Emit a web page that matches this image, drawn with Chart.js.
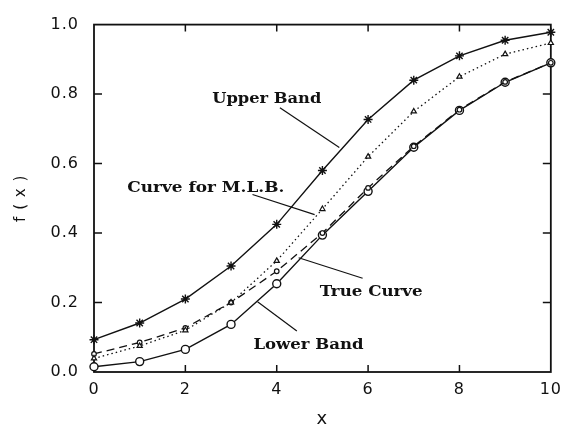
<!DOCTYPE html>
<html>
<head>
<meta charset="utf-8">
<script src="https://cdn.jsdelivr.net/npm/chart.js@4/dist/chart.umd.min.js"></script>
<style>
  html, body { margin: 0; padding: 0; background: #fff; }
</style>
</head>
<body>
<canvas id="chart" width="569" height="430"></canvas>
<script>
// data
const xValues = [0, 1, 2, 3, 4, 5, 6, 7, 8, 9, 10];
const upperBand = [0.093, 0.141, 0.21, 0.305, 0.425, 0.58, 0.727, 0.84, 0.91, 0.955, 0.978];
const mlbCurve = [0.039, 0.075, 0.12, 0.2, 0.32, 0.469, 0.62, 0.75, 0.85, 0.915, 0.947];
const trueCurve = [0.052, 0.085, 0.127, 0.2, 0.29, 0.4, 0.53, 0.65, 0.755, 0.835, 0.89];
const lowerBand = [0.015, 0.03, 0.065, 0.137, 0.254, 0.394, 0.52, 0.647, 0.753, 0.834, 0.89];
const xTicks = [0, 2, 4, 6, 8, 10];
const yTicks = [0, 0.2, 0.4, 0.6, 0.8, 1.0];

// callout labels (data units) with leader lines
const notes = [
  { text: "Upper Band", at: [2.59, 0.784], width: 109, line: [[4.07, 0.761], [5.37, 0.646]] },
  { text: "Curve for M.L.B.", at: [0.73, 0.528], width: 157, line: [[3.47, 0.511], [4.83, 0.453]] },
  { text: "True Curve", at: [4.94, 0.228], width: 103, line: [[5.88, 0.27], [4.48, 0.329]] },
  { text: "Lower Band", at: [3.49, 0.076], width: 110, line: [[4.44, 0.118], [3.58, 0.202]] }
];

const ink = "#111";

function toPoints(ys) {
  return xValues.map((x, i) => ({ x: x, y: ys[i] }));
}

// box round the plot with inward ticks on all four sides
const framePlugin = {
  id: "frame",
  beforeDraw(chart) {
    chart.ctx.letterSpacing = "1px";
  },
  beforeDatasetsDraw(chart) {
    const { ctx, chartArea: a, scales } = chart;
    ctx.save();
    ctx.strokeStyle = ink;
    ctx.lineWidth = 1.8;
    ctx.strokeRect(a.left, a.top, a.right - a.left, a.bottom - a.top);
    ctx.lineWidth = 1.5;
    ctx.beginPath();
    xTicks.slice(1, -1).forEach(v => {
      const px = scales.x.getPixelForValue(v);
      ctx.moveTo(px, a.bottom); ctx.lineTo(px, a.bottom - 7);
      ctx.moveTo(px, a.top); ctx.lineTo(px, a.top + 7);
    });
    yTicks.slice(1, -1).forEach(v => {
      const py = scales.y.getPixelForValue(v);
      ctx.moveTo(a.left, py); ctx.lineTo(a.left + 8, py);
      ctx.moveTo(a.right, py); ctx.lineTo(a.right - 8, py);
    });
    ctx.stroke();
    ctx.restore();
  }
};

const notesPlugin = {
  id: "notes",
  afterDatasetsDraw(chart) {
    const { ctx, scales } = chart;
    ctx.save();
    ctx.letterSpacing = "0px";
    ctx.strokeStyle = ink;
    ctx.fillStyle = ink;
    ctx.lineWidth = 1.2;
    ctx.font = "bold 14px 'DejaVu Serif'";
    ctx.textBaseline = "middle";
    notes.forEach(n => {
      const p0 = n.line[0], p1 = n.line[1];
      ctx.beginPath();
      ctx.moveTo(scales.x.getPixelForValue(p0[0]), scales.y.getPixelForValue(p0[1]));
      ctx.lineTo(scales.x.getPixelForValue(p1[0]), scales.y.getPixelForValue(p1[1]));
      ctx.stroke();
      const tx = scales.x.getPixelForValue(n.at[0]);
      const ty = scales.y.getPixelForValue(n.at[1]);
      const w = ctx.measureText(n.text).width;
      ctx.save();
      ctx.translate(tx, ty);
      ctx.scale(n.width / w, 1);
      ctx.fillText(n.text, 0, 0);
      ctx.restore();
    });
    ctx.restore();
  }
};

const tickFont = { family: "'DejaVu Sans'", size: 16 };

new Chart(document.getElementById("chart"), {
  type: "line",
  data: {
    datasets: [
      {
        label: "Upper Band",
        data: toPoints(upperBand),
        borderColor: ink, borderWidth: 1.4,
        pointStyle: "star", pointRadius: 4.5, pointBorderWidth: 1.4,
        pointBorderColor: ink, pointBackgroundColor: ink,
        clip: false
      },
      {
        label: "Curve for M.L.B.",
        data: toPoints(mlbCurve),
        borderColor: ink, borderWidth: 1.3, borderDash: [1.5, 3],
        pointStyle: "triangle", pointRadius: 3, pointBorderWidth: 1.2,
        pointBorderColor: ink, pointBackgroundColor: "#fff",
        clip: false
      },
      {
        label: "True Curve",
        data: toPoints(trueCurve),
        borderColor: ink, borderWidth: 1.3, borderDash: [8, 5],
        pointStyle: "circle", pointRadius: 2.3, pointBorderWidth: 1.2,
        pointBorderColor: ink, pointBackgroundColor: "#fff",
        clip: false
      },
      {
        label: "Lower Band",
        data: toPoints(lowerBand),
        borderColor: ink, borderWidth: 1.4,
        pointStyle: "circle", pointRadius: 4, pointBorderWidth: 1.4,
        pointBorderColor: ink, pointBackgroundColor: "#fff",
        clip: false
      }
    ]
  },
  options: {
    responsive: false,
    animation: false,
    layout: { padding: { top: 16, right: 11, left: 0, bottom: 0 } },
    plugins: { legend: { display: false }, tooltip: { enabled: false } },
    elements: { line: { tension: 0 } },
    scales: {
      x: {
        type: "linear", min: 0, max: 10,
        afterBuildTicks: s => { s.ticks = xTicks.map(v => ({ value: v })); },
        afterFit: s => { s.height = 58; },
        grid: { display: false, drawTicks: false },
        border: { display: false },
        ticks: { padding: 8, font: tickFont, color: ink, maxRotation: 0 },
        title: { display: true, text: "x", font: { family: "'DejaVu Sans'", size: 18 }, color: ink, padding: { top: 0, bottom: 0 } }
      },
      y: {
        type: "linear", min: 0, max: 1,
        afterBuildTicks: s => { s.ticks = yTicks.map(v => ({ value: v })); },
        afterFit: s => { s.width = 94; },
        grid: { display: false, drawTicks: false },
        border: { display: false },
        ticks: { padding: 15, font: tickFont, color: ink, callback: v => v.toFixed(1) },
        title: { display: true, text: "f ( x )", font: { family: "'DejaVu Sans'", size: 15 }, color: ink, padding: { top: 12, bottom: 0 } }
      }
    }
  },
  plugins: [framePlugin, notesPlugin]
});
</script>
</body>
</html>
